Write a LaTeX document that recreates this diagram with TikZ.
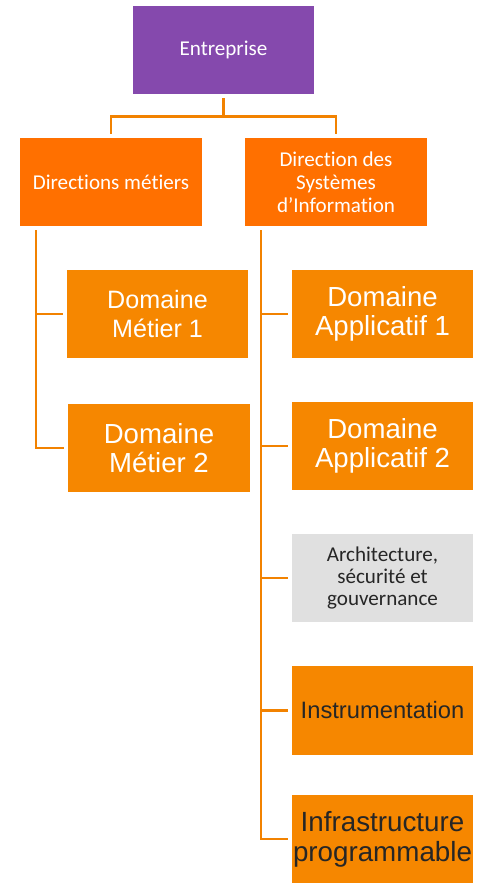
\documentclass[tikz,border=0pt]{standalone}
\usepackage{fontspec}
\setmainfont{Carlito}[RawFeature={-liga}]
\newfontfamily\arialfont{Liberation Sans}
\usepackage{tikz}
\usetikzlibrary{positioning,calc}
\definecolor{EntPurple}{HTML}{8549AD}
\definecolor{DirOrange}{HTML}{FF7000}
\definecolor{DomOrange}{HTML}{F68700}
\definecolor{LinkOrange}{HTML}{F28200}
\definecolor{ArchGray}{HTML}{E0E0E0}
\definecolor{DarkText}{HTML}{262626}

\begin{document}
\begin{tikzpicture}[
  box/.style={draw=white, line width=0.6pt, minimum width=3.66cm, minimum height=1.8cm, inner sep=0pt, align=center},
  topbox/.style={box, fill=DirOrange, text=white, font=\fontsize{12}{13}\selectfont},
  dombox/.style={box, fill=DomOrange, text=white, font=\arialfont\fontsize{15.7}{16.7}\selectfont},
  link/.style={LinkOrange, line width=1.5pt, shorten <=1.5pt, shorten >=1.5pt}
]

\useasboundingbox (0,0) rectangle (9.56,-17.68);

% Top of the organisation
\node[box, fill=EntPurple, text=white, font=\fontsize{12}{13}\selectfont] (ent) at (4.47,-1.0) {Entreprise};
\node[topbox] (dirmet) at (2.22,-3.64) {Directions métiers};
\node[topbox] (dsi) at (6.72,-3.64) {Direction des\\Systèmes\\d’Information};

% Business domains
\node[dombox, font=\arialfont\fontsize{14.3}{16.5}\selectfont] (dommet1) at (3.15,-6.28) {Domaine\\Métier 1};
\node[dombox] (dommet2) at (3.18,-8.96) {Domaine\\Métier 2};

% Information system domains
\node[dombox] (domapp1) at (7.65,-6.28) {Domaine\\Applicatif 1};
\node[dombox] (domapp2) at (7.65,-8.92) {Domaine\\Applicatif 2};
\node[box, fill=ArchGray, text=DarkText, font=\fontsize{12}{12.5}\selectfont] (archi) at (7.65,-11.56) {Architecture,\\sécurité et\\gouvernance};
\node[dombox, text=DarkText, font=\arialfont\fontsize{13.5}{15}\selectfont] (instru) at (7.65,-14.21) {Instrumentation};
\node[dombox, text=DarkText, font=\arialfont\fontsize{15.8}{17}\selectfont] (infra) at (7.65,-16.78) {Infrastructure\\programmable};

% Connectors
\coordinate (dmtrunk) at ($(dirmet.south west)+(0.34,0)$);
\coordinate (dsitrunk) at ($(dsi.south west)+(0.34,0)$);
\draw[link] (ent.south) -- ++(0,-0.42) -| (dirmet.north);
\draw[link] (ent.south) -- ++(0,-0.42) -| (dsi.north);
\foreach \dom in {dommet1,dommet2} \draw[link] (dmtrunk) |- (\dom.west);
\foreach \dom in {domapp1,domapp2,archi,instru,infra} \draw[link] (dsitrunk) |- (\dom.west);

\end{tikzpicture}
\end{document}
